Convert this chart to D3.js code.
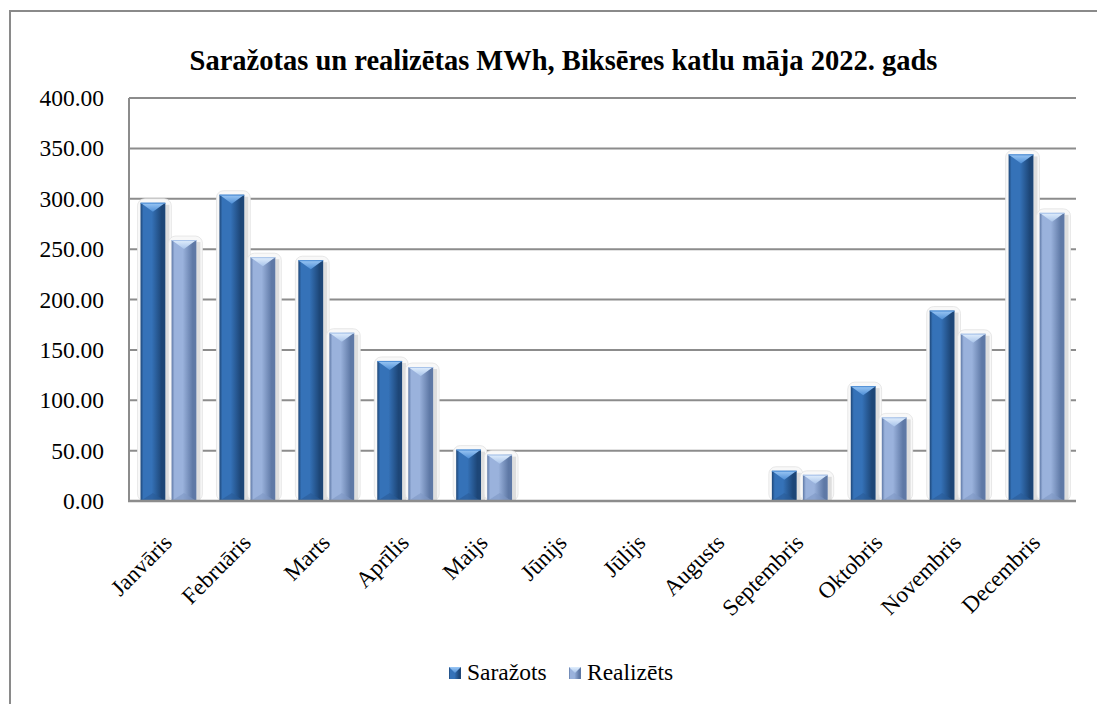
<!DOCTYPE html>
<html><head><meta charset="utf-8">
<script src="https://cdn.jsdelivr.net/npm/d3@7"></script>
<style>
html,body{margin:0;padding:0;background:#fff;}
svg{display:block;font-family:"Liberation Serif","Times New Roman",serif;}
svg text{font-family:"Liberation Serif","Times New Roman",serif !important;}
</style>
</head><body>
<svg id="c" width="1097" height="704" font-family="Liberation Serif"></svg>
<script>
const title = "Saražotas un realizētas MWh, Biksēres katlu māja 2022. gads";
const months = ["Janvāris","Februāris","Marts","Aprīlis","Maijs","Jūnijs","Jūlijs","Augusts","Septembris","Oktobris","Novembris","Decembris"];
const seriesNames = ["Saražots","Realizēts"];
const sarazots = [296, 304, 239, 139, 51, 0, 0, 0, 30, 114, 189, 344];
const realizets = [259, 242, 167, 133, 46, 0, 0, 0, 26, 83, 166, 286];
const yTicks = [0, 50, 100, 150, 200, 250, 300, 350, 400];

const svg = d3.select("#c");
const FF = "Liberation Serif";
const L = 129, R = 1076, T = 98, B = 501;

const defs = svg.append("defs");
const pal = {
  "Saražots": {edge:"#1d4677", mid:"#3572b8", top1:"#9cc8f5", top2:"#4f8fd6", bot:"#2a5c98"},
  "Realizēts": {edge:"#5f79a6", mid:"#9ab2dc", top1:"#e2effd", top2:"#a9c4ea", bot:"#7f98c4"}
};
seriesNames.forEach((s,i)=>{
  const p = pal[s];
  const g = defs.append("linearGradient").attr("id","g"+i).attr("x1","0").attr("x2","1").attr("y1","0").attr("y2","0");
  g.append("stop").attr("offset","0").attr("stop-color",p.edge);
  g.append("stop").attr("offset","0.12").attr("stop-color",p.mid);
  g.append("stop").attr("offset","0.45").attr("stop-color",p.mid);
  g.append("stop").attr("offset","0.85").attr("stop-color",p.edge);
  g.append("stop").attr("offset","1").attr("stop-color",p.edge);
  const t = defs.append("linearGradient").attr("id","t"+i).attr("x1","0").attr("x2","0").attr("y1","0").attr("y2","1");
  t.append("stop").attr("offset","0").attr("stop-color",p.top1);
  t.append("stop").attr("offset","1").attr("stop-color",p.top2);
});

// outer border
svg.append("rect").attr("x",10).attr("y",11).attr("width",1200).attr("height",800)
  .attr("fill","none").attr("stroke","#8a8a8a").attr("stroke-width",2);

// title
svg.append("text").attr("x",563.5).attr("y",70).attr("text-anchor","middle")
  .style("font-family",FF).style("font-weight","bold").attr("font-size",28.5).attr("fill","#000").text(title);

const y = d3.scaleLinear().domain([0,400]).range([B,T]);
const x = d3.scaleBand().domain(months).range([L,R]).padding(0);
const step = x.step();
const xs = d3.scaleBand().domain(seriesNames).range([step*0.146, step*0.854]).paddingInner(0.2).paddingOuter(0);

// gridlines
svg.append("g").selectAll("line").data(yTicks.filter(d=>d>0)).join("line")
  .attr("x1",L).attr("x2",R).attr("y1",d=>y(d)).attr("y2",d=>y(d))
  .attr("stroke","#8c8c8c").attr("stroke-width",2);

// y axis labels
const yAxis = d3.axisLeft(y).tickValues(yTicks).tickFormat(d3.format(".2f")).tickSize(0).tickPadding(25);
const ya = svg.append("g").attr("transform",`translate(${L},0)`).call(yAxis);
ya.attr("font-family",FF).attr("font-size",null);
ya.select(".domain").remove();
ya.selectAll("text").style("font-family",FF).attr("font-size",23.5).attr("fill","#000");

// bars
const data = months.map((m,i)=>({m, vals:[{s:seriesNames[0],v:sarazots[i],k:0},{s:seriesNames[1],v:realizets[i],k:1}]}));
const groups = svg.append("g").selectAll("g").data(data).join("g")
  .attr("transform",d=>`translate(${x(d.m)},0)`);
const bars = groups.selectAll("g.bar").data(d=>d.vals.filter(v=>v.v>0)).join("g").attr("class","bar");
const bw = xs.bandwidth();
// shadow
bars.append("rect").attr("x",d=>xs(d.s)-3).attr("y",d=>y(d.v)-4).attr("width",bw+9).attr("height",d=>B-y(d.v)+4)
  .attr("rx",7).attr("fill","#f8f8f8").attr("stroke","#e2e2e2").attr("stroke-width",0.8);
bars.append("rect").attr("x",d=>xs(d.s)+bw).attr("y",d=>y(d.v)+2).attr("width",4).attr("height",d=>B-y(d.v)-2)
  .attr("fill","#dedede");
bars.append("rect").attr("x",d=>xs(d.s)).attr("y",d=>y(d.v)).attr("width",bw).attr("height",d=>B-y(d.v))
  .attr("fill",d=>`url(#g${d.k})`);
// top bevel
bars.append("path").attr("d",d=>{
  const x0 = xs(d.s), x1 = x0+bw, yt = y(d.v), h = Math.min(9, (B-yt)/2);
  return `M${x0},${yt}L${x1},${yt}L${x0+bw/2},${yt+h}Z`;
}).attr("fill",d=>`url(#t${d.k})`);
bars.append("line").attr("x1",d=>xs(d.s)).attr("x2",d=>xs(d.s)+bw).attr("y1",d=>y(d.v)+0.5).attr("y2",d=>y(d.v)+0.5)
  .attr("stroke",d=>pal[d.s].top2).attr("stroke-width",1);
// bottom bevel
bars.append("path").attr("d",d=>{
  const x0 = xs(d.s), x1 = x0+bw, h = Math.min(8, (B-y(d.v))/2);
  return `M${x0},${B}L${x1},${B}L${x0+bw/2},${B-h}Z`;
}).attr("fill",d=>pal[d.s].bot).attr("opacity",0.6);

// axes lines
svg.append("line").attr("x1",L).attr("x2",L).attr("y1",T).attr("y2",B).attr("stroke","#8c8c8c").attr("stroke-width",2);
svg.append("line").attr("x1",L-1).attr("x2",R).attr("y1",B).attr("y2",B).attr("stroke","#8c8c8c").attr("stroke-width",2.5);

// x labels
const xAxis = d3.axisBottom(x).tickSize(0);
const xa = svg.append("g").attr("transform",`translate(0,${B})`).call(xAxis);
xa.attr("font-family",FF).attr("font-size",null);
xa.select(".domain").remove();
xa.selectAll("text").style("font-family",FF).attr("font-size",23).attr("fill","#000")
  .attr("text-anchor","end").attr("dy",0).attr("y",0)
  .attr("transform","translate(5,43) rotate(-45)");

// legend
const legX = [449, 569];
const leg = svg.append("g").selectAll("g").data(seriesNames).join("g")
  .attr("transform",(d,i)=>`translate(${legX[i]},667)`);
leg.append("rect").attr("width",12).attr("height",12).attr("fill",(d,i)=>`url(#g${i})`);
leg.append("path").attr("d","M0,0L12,0L6,6Z").attr("fill",(d,i)=>`url(#t${i})`);
leg.append("text").attr("x",18).attr("y",13).style("font-family",FF).attr("font-size",23.5).attr("fill","#000").text(d=>d);
</script>
</body></html>
